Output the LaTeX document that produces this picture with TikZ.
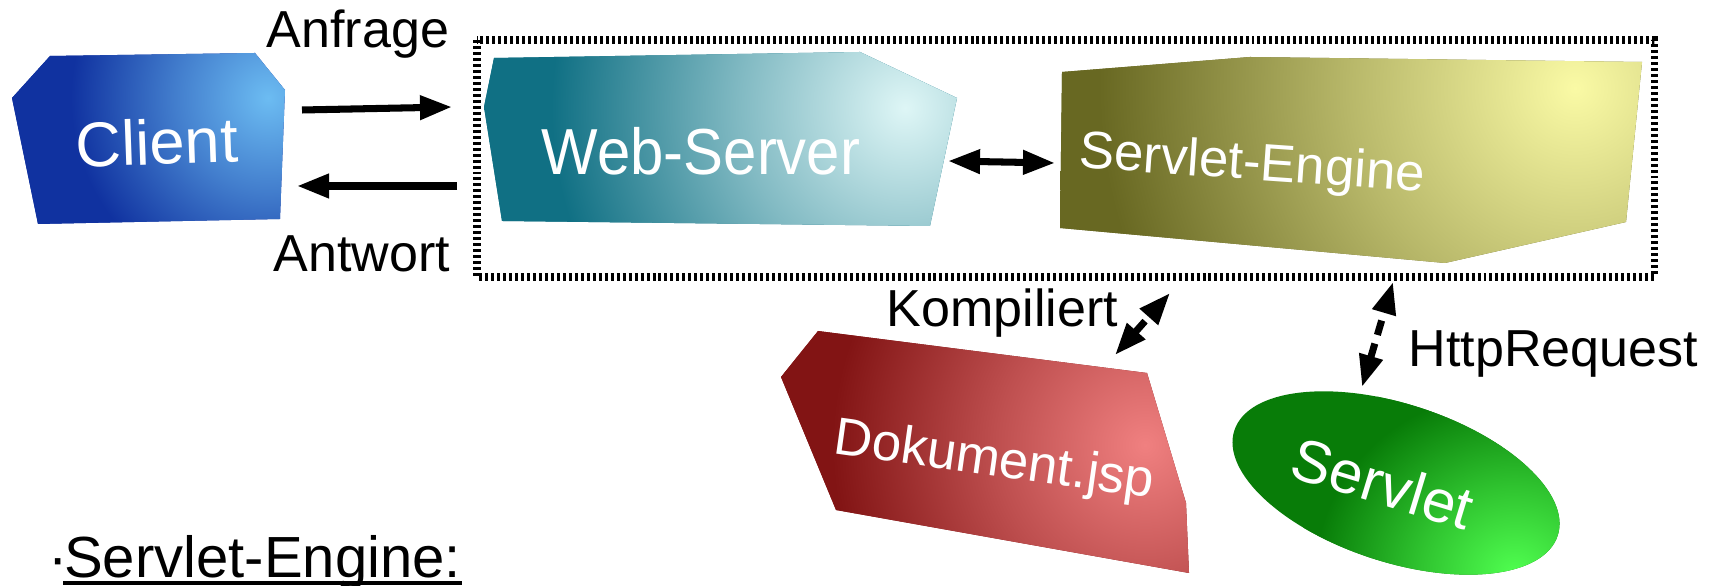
\documentclass[tikz,border=0pt]{standalone}
\usepackage{fontspec}
\setmainfont{Liberation Sans}
\usetikzlibrary{arrows.meta,positioning}
\definecolor{clientdark}{RGB}{16,50,160}
\definecolor{clientlight}{RGB}{108,188,242}
\definecolor{webdark}{RGB}{16,112,132}
\definecolor{weblight}{RGB}{222,246,246}
\definecolor{enginedark}{RGB}{104,104,34}
\definecolor{enginelight}{RGB}{250,250,165}
\definecolor{jspdark}{RGB}{130,20,20}
\definecolor{jsplight}{RGB}{240,128,128}
\definecolor{servdark}{RGB}{8,124,8}
\definecolor{servlight}{RGB}{80,255,80}
\colorlet{glowin}{white}
\colorlet{glowout}{black}
\pgfdeclareradialshading[glowin,glowout]{glowshade}{\pgfpointorigin}{color(0bp)=(glowin);color(8bp)=(glowin!55!glowout);color(17bp)=(glowout);color(50bp)=(glowout)}

\begin{document}
\begin{tikzpicture}[
  x=0.01cm, y=-0.01cm,
  >={Triangle[length=3.2mm,width=2.3mm]},
  glow/.style n args={4}{fill=#1, path picture={\colorlet{glowin}{#2}\colorlet{glowout}{#1}\shade[shading=glowshade] (#3) circle (#4);}},
  lbl/.style={inner sep=0, font=\fontsize{14.8}{16}\selectfont},
  boxtxt/.style={inner sep=0, text=white},
  arr/.style={line width=2pt, ->},
  darr/.style={line width=2pt, <->},
  dasharr/.style={line width=2pt, <->, dash pattern=on 1.5mm off 0.9mm},
  dotbox/.style={line width=2pt, dash pattern=on 0.85pt off 0.85pt}
]
\useasboundingbox (0,0) rectangle (1710,586);

% 3d blocks
\fill[glow={clientdark}{clientlight}{268,98}{290}]
  (12,98) -- (50,56) -- (255,53) -- (285,90) -- (280,219) -- (38,224) -- cycle;
\fill[glow={webdark}{weblight}{905,108}{520}]
  (494,58) -- (860,52) -- (957,98) -- (930,226) -- (502,221) -- (484,107) -- cycle;
\fill[glow={enginedark}{enginelight}{1575,88}{700}]
  (1062,72) -- (1250,57) -- (1642,62) -- (1626,222) -- (1445,263) -- (1060,228) -- cycle;
\fill[glow={jspdark}{jsplight}{1145,445}{460}]
  (818,331) -- (1147,373) -- (1186,503) -- (1189,573) -- (836,510) -- (781,377) -- cycle;
\fill[glow={servdark}{servlight}{1560,525}{240}, rotate around={-18:(1396,483)}]
  (1396,483) ellipse [x radius=170, y radius=79];

% block labels
\node[boxtxt, font=\fontsize{18}{20}\selectfont, rotate=2] (client) at (157,142) {Client};
\node[boxtxt, font=\fontsize{18.5}{20}\selectfont, xscale=0.92] (web) at (701,151) {Web-Server};
\node[boxtxt, font=\fontsize{15}{17}\selectfont, rotate=-4] (engine) at (1252,166) {Servlet-Engine};
\node[boxtxt, font=\fontsize{15}{17}\selectfont, rotate=-8] (jsp) at (994,462) {Dokument.jsp};
\node[boxtxt, font=\fontsize{17}{19}\selectfont, rotate=-17] (servlet) at (1383,483) {Servlet};

% connector ends
\coordinate (req-s) at (302,110);
\coordinate (req-e) at (452,107);
\coordinate (res-s) at (457,186);
\coordinate (res-e) at (297,186);
\coordinate (web-port) at (948,161);
\coordinate (eng-port) at (1055,163);
\coordinate (jsp-port) at (1115,355);
\coordinate (eng-jsp) at (1170,293);
\coordinate (srv-port) at (1362,387);
\coordinate (eng-srv) at (1393,282);

\draw[arr] (req-s) -- (req-e);
\draw[arr] (res-s) -- (res-e);
\draw[darr] (web-port) -- (eng-port);
\draw[dasharr] (jsp-port) -- (eng-jsp);
\draw[dasharr] (srv-port) -- (eng-srv);

\node[lbl, anchor=base] (anfrage) at (358,48) {Anfrage};
\node[lbl, anchor=base] (antwort) at (362,272) {Antwort};
\node[lbl, anchor=base east] (komp) at (1119,327) {Kompiliert};
\node[lbl, anchor=base west] (http) at (1408,367) {HttpRequest};

\draw[dotbox] (477,40) rectangle (1654,277);

% caption
\node[inner sep=0, anchor=base west, font=\fontsize{16.5}{18}\selectfont] (dot) at (48,578) {·};
\node[inner sep=0, font=\fontsize{16.5}{18}\selectfont, right=-1.5pt of dot.base east, anchor=base west] (title) {Servlet-Engine:};
\draw[line width=1pt] ([yshift=-0.5mm]title.base west) -- ([yshift=-0.5mm]title.base east);
\end{tikzpicture}
\end{document}
